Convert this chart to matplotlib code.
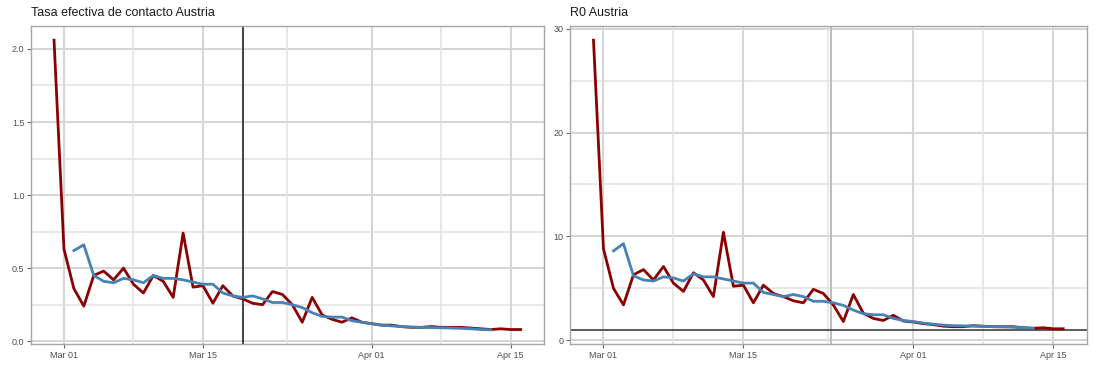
import matplotlib
matplotlib.use("Agg")
import matplotlib.pyplot as plt
import matplotlib.dates as mdates
import numpy as np
import pandas as pd

plt.rcParams['font.family'] = ['Liberation Sans', 'DejaVu Sans']

# dates
red_dates = pd.date_range("2020-02-29", "2020-04-16", freq="D")
blue_dates = pd.date_range("2020-03-02", "2020-04-13", freq="D")

# tasa efectiva de contacto
tasa_diaria = [2.06,
               0.63, 0.36, 0.24, 0.45, 0.48, 0.42, 0.50, 0.39, 0.33, 0.45, 0.41, 0.30, 0.74, 0.37, 0.38,
               0.26, 0.38, 0.31, 0.29, 0.26, 0.25, 0.34, 0.32, 0.25, 0.13, 0.30, 0.18, 0.15, 0.13, 0.16, 0.13,
               0.12, 0.11, 0.11, 0.10, 0.095, 0.095, 0.10, 0.095, 0.095, 0.095, 0.09, 0.085, 0.08, 0.085, 0.08, 0.08]
tasa_suave = [0.62, 0.66, 0.45, 0.41, 0.40, 0.43, 0.42, 0.40, 0.45, 0.43, 0.43, 0.42, 0.405, 0.39,
              0.39, 0.33, 0.31, 0.30, 0.31, 0.29, 0.265, 0.265, 0.25, 0.23, 0.195, 0.17, 0.165, 0.165, 0.14, 0.13,
              0.12, 0.11, 0.105, 0.10, 0.097, 0.095, 0.093, 0.092, 0.09, 0.088, 0.085, 0.08, 0.078]

# R0
r0_diario = [28.9,
             8.8, 5.0, 3.4, 6.3, 6.8, 5.8, 7.1, 5.5, 4.7, 6.5, 5.8, 4.2, 10.4, 5.2, 5.3,
             3.6, 5.3, 4.5, 4.2, 3.8, 3.6, 4.9, 4.5, 3.4, 1.8, 4.4, 2.6, 2.1, 1.9, 2.4, 1.85,
             1.75, 1.6, 1.5, 1.35, 1.3, 1.3, 1.4, 1.35, 1.3, 1.3, 1.3, 1.2, 1.15, 1.2, 1.1, 1.1]
r0_suave = [8.6, 9.3, 6.2, 5.8, 5.7, 6.1, 6.0, 5.7, 6.4, 6.1, 6.1, 5.9, 5.7, 5.5,
            5.5, 4.6, 4.4, 4.2, 4.4, 4.2, 3.75, 3.75, 3.6, 3.35, 2.9, 2.55, 2.45, 2.45, 2.1, 1.9,
            1.8, 1.65, 1.55, 1.45, 1.4, 1.38, 1.35, 1.33, 1.3, 1.28, 1.25, 1.2, 1.15]

x_breaks = pd.to_datetime(["2020-03-01", "2020-03-15", "2020-04-01", "2020-04-15"])
x_minor = pd.to_datetime(["2020-03-08 00:00", "2020-03-23 12:00", "2020-04-08 00:00"])

fig = plt.figure(figsize=(11.02, 3.72), dpi=100)
ax1 = fig.add_axes([30.7/1102, 1-344.3/372, 513.3/1102, 318.6/372])
ax2 = fig.add_axes([570/1102, 1-344.3/372, 516.7/1102, 318.6/372])


def style(ax, title, yticks, yminor, ylo, yhi):
    ax.set_facecolor('white')
    for t in yticks:
        ax.axhline(t, color='#D6D6D6', lw=1.5, zorder=0)
    for t in yminor:
        ax.axhline(t, color='#E2E2E2', lw=1.1, zorder=0)
    for t in x_breaks:
        ax.axvline(mdates.date2num(t), color='#D6D6D6', lw=1.5, zorder=0)
    for t in x_minor:
        ax.axvline(mdates.date2num(t), color='#E2E2E2', lw=1.1, zorder=0)
    d0 = mdates.date2num(red_dates[0])
    d1 = mdates.date2num(red_dates[-1])
    r = d1 - d0
    ax.set_xlim(d0 - 0.05*r, d1 + 0.05*r)
    ax.set_ylim(ylo - 0.05*(yhi-ylo), yhi + 0.05*(yhi-ylo))
    ax.set_xticks([mdates.date2num(t) for t in x_breaks])
    ax.xaxis.set_major_formatter(mdates.DateFormatter('%b %d'))
    ax.set_yticks(yticks)
    ax.tick_params(labelsize=6.5, labelcolor='#4D4D4D', color='#666666', length=3, width=0.8, pad=1.5)
    for s in ax.spines.values():
        s.set_color('#A6A6A6')
        s.set_linewidth(1.0)
    ax.set_title(title, loc='left', fontsize=9, color='#1A1A1A', pad=7)


style(ax1, 'Tasa efectiva de contacto Austria', [0.0, 0.5, 1.0, 1.5, 2.0],
      [0.25, 0.75, 1.25, 1.75], min(min(tasa_diaria), min(tasa_suave)), max(tasa_diaria))
ax1.yaxis.set_major_formatter(matplotlib.ticker.FormatStrFormatter('%.1f'))
ax1.axvline(mdates.date2num(pd.Timestamp("2020-03-19")), color='#333333', lw=1.3, zorder=1)
ax1.plot(red_dates, tasa_diaria, color='#8B0000', lw=2, zorder=2)
ax1.plot(blue_dates, tasa_suave, color='#4682B4', lw=2, zorder=3)

style(ax2, 'R0 Austria', [0, 10, 20, 30], [5, 15, 25], 1.0, max(r0_diario))
ax2.axvline(mdates.date2num(pd.Timestamp("2020-03-23 18:00")), color='#BDBDBD', lw=1.4, zorder=1)
ax2.axhline(1, color='#4D4D4D', lw=1.3, zorder=1)
ax2.plot(red_dates, r0_diario, color='#8B0000', lw=2, zorder=2)
ax2.plot(blue_dates, r0_suave, color='#4682B4', lw=2, zorder=3)

fig.savefig('out.png', dpi=100)
